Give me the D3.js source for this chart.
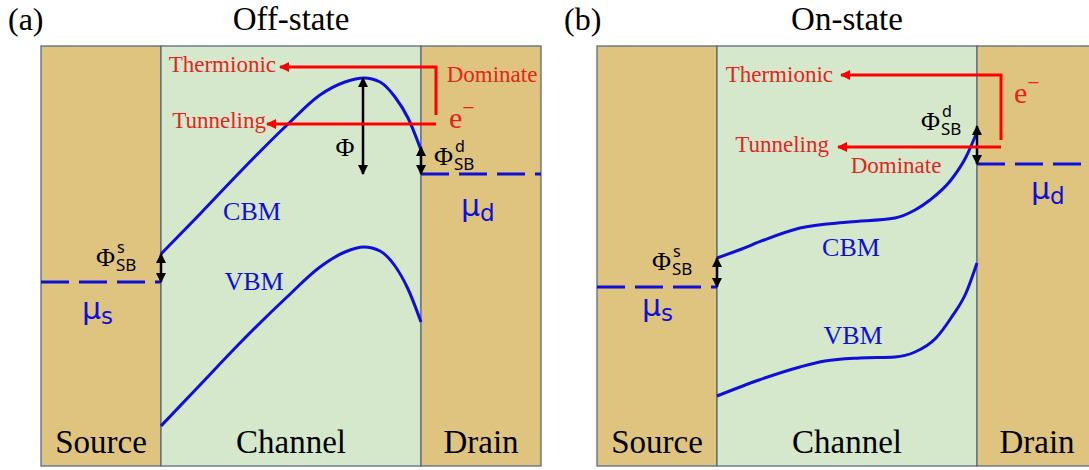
<!DOCTYPE html>
<html>
<head>
<meta charset="utf-8">
<script src="https://cdn.jsdelivr.net/npm/d3@7"></script>
<style>
  body { margin: 0; background: #fff; }
</style>
</head>
<body>
<div id="chart"></div>
<script>
// device regions along the transport direction (nm)
var regionNames = ["Source", "Channel", "Drain"];
var regionEdges = [-12, 0, 26, 38];

// (a) off-state band edges (eV, source Fermi level = 0)
var offCbmPos = [0, 3.9, 7.9, 12.6, 15.9, 18.4, 20.3, 21.9, 23.4, 24.7, 26];
var offCbm    = [0.28, 0.68, 1.10, 1.57, 1.87, 2.00, 2.04, 2.00, 1.85, 1.64, 1.32];
var offVbmPos = [0, 3.9, 7.9, 12.6, 15.9, 18.4, 20.3, 21.9, 23.4, 24.7, 26];
var offVbm    = [-1.44, -1.03, -0.61, -0.15, 0.15, 0.30, 0.35, 0.31, 0.16, -0.07, -0.40];
var offMu     = [0, 1.08];            // mu_s, mu_d
var offTransport = [2.15, 1.58];      // thermionic, tunneling energy

// (b) on-state band edges
var onCbmPos = [0, 2.2, 4.7, 8.3, 13.2, 17.8, 19.8, 21.3, 23.4, 24.9, 26];
var onCbm    = [0.29, 0.37, 0.47, 0.59, 0.65, 0.69, 0.77, 0.87, 1.07, 1.30, 1.55];
var onVbmPos = [0, 4.2, 8.3, 10.8, 14.3, 17.8, 19.8, 21.9, 23.4, 24.9, 26];
var onVbm    = [-1.09, -0.93, -0.80, -0.74, -0.71, -0.70, -0.65, -0.51, -0.31, -0.06, 0.24];
var onMu     = [0, 1.23];
var onTransport = [2.12, 1.40];

var tan = "#dfc47f", green = "#d5e8cc", edge = "#5b6b80";
var blue = "#0f0fd8", red = "#ff0000", redText = "#e3261c";
var serif = "'Liberation Serif', 'Times New Roman', serif";

var panels = [
  { tag: "(a)", title: "Off-state", left: 41, eDomain: [-1.84, 2.36],
    cbmPos: offCbmPos, cbm: offCbm, vbmPos: offVbmPos, vbm: offVbm, mu: offMu, tr: offTransport,
    redX: 27.5, redBottom: 1.67, thermTip: 11.9, tunnTip: 10.6,
    arrows: [[20.2, 2.04, 1.08], [0, 0.28, 0], [26, 1.35, 1.08]],
    phiBig: [18.4, 1.26],
    labels: { cbm: [9.1, 0.62], vbm: [9.3, -0.08], therm: [11.5, 2.10], tunn: [10.5, 1.54],
              dom: [33.1, 2.00], e: [28.8, 1.54], phiD: [27.3, 1.17], phiS: [-6.5, 0.16],
              muD: [30, 0.66], muS: [-7.9, -0.37] } },
  { tag: "(b)", title: "On-state", left: 597, eDomain: [-1.79, 2.41],
    cbmPos: onCbmPos, cbm: onCbm, vbmPos: onVbmPos, vbm: onVbm, mu: onMu, tr: onTransport,
    redX: 28.4, redBottom: 1.47, thermTip: 12.4, tunnTip: 12.1,
    arrows: [[0, 0.29, 0], [26, 1.61, 1.23]],
    phiBig: null,
    labels: { cbm: [13.4, 0.31], vbm: [13.6, -0.57], therm: [11.6, 2.05], tunn: [11.2, 1.35],
              dom: [17.9, 1.14], e: [29.7, 1.84], phiD: [20.4, 1.57], phiS: [-6.5, 0.17],
              muD: [31.4, 0.88], muS: [-7.5, -0.29] } }
];

var svg = d3.select("#chart").append("svg")
  .attr("width", 1089).attr("height", 470);

var defs = svg.append("defs");
defs.append("marker").attr("id", "headK")
  .attr("markerUnits", "userSpaceOnUse").attr("viewBox", "0 0 10 10")
  .attr("markerWidth", 10).attr("markerHeight", 11).attr("refX", 9).attr("refY", 5)
  .attr("orient", "auto-start-reverse")
  .append("path").attr("d", "M0,0L10,5L0,10Z").attr("fill", "#000");
defs.append("marker").attr("id", "headR")
  .attr("markerUnits", "userSpaceOnUse").attr("viewBox", "0 0 10 10")
  .attr("markerWidth", 13).attr("markerHeight", 10).attr("refX", 9).attr("refY", 5)
  .attr("orient", "auto")
  .append("path").attr("d", "M0,0L10,5L0,10Z").attr("fill", red);

// Φ with stacked super/subscript, kept in one text element
function phiLabel(g, x, y, sup) {
  var t = g.append("text").attr("x", x).attr("y", y)
    .attr("font-family", serif).attr("font-size", 26);
  t.append("tspan").text("Φ");
  var s = t.append("tspan").attr("font-family", "'Noto Sans', sans-serif")
    .attr("font-size", 16).attr("dx", 2).attr("dy", -13).text(sup);
  var w = s.node().getComputedTextLength();
  t.append("tspan").attr("font-family", "'Noto Sans', sans-serif")
    .attr("font-size", 17).attr("dx", -w - 1).attr("dy", 18).text("SB");
}

function muLabel(g, x, y, sub) {
  var t = g.append("text").attr("x", x).attr("y", y).attr("fill", blue)
    .attr("font-family", "'DejaVu Sans', sans-serif").attr("font-size", 30);
  t.append("tspan").text("μ");
  t.append("tspan").attr("font-size", 23).attr("dy", 5).text(sub);
}

panels.forEach(function(p) {
  var x = d3.scaleLinear().domain([regionEdges[0], regionEdges[3]]).range([p.left, p.left + 500]);
  var y = d3.scaleLinear().domain(p.eDomain).range([466, 46]);
  var g = svg.append("g");

  // regions
  g.selectAll("rect").data(regionNames).enter().append("rect")
    .attr("x", function(d, i) { return x(regionEdges[i]); })
    .attr("y", y(p.eDomain[1]))
    .attr("width", function(d, i) { return x(regionEdges[i + 1]) - x(regionEdges[i]); })
    .attr("height", y(p.eDomain[0]) - y(p.eDomain[1]))
    .attr("fill", function(d, i) { return i == 1 ? green : tan; })
    .attr("stroke", edge).attr("stroke-width", 1.3);

  // region names
  g.selectAll("text.rname").data(regionNames).enter().append("text")
    .attr("class", "rname")
    .attr("x", function(d, i) { return x((regionEdges[i] + regionEdges[i + 1]) / 2); })
    .attr("y", 453).attr("text-anchor", "middle")
    .attr("font-family", serif).attr("font-size", 33).text(function(d) { return d; });

  // titles
  g.append("text").attr("x", p.left - 33).attr("y", 30)
    .attr("font-family", serif).attr("font-size", 32).text(p.tag);
  g.append("text").attr("x", x(13)).attr("y", 30).attr("text-anchor", "middle")
    .attr("font-family", serif).attr("font-size", 33).text(p.title);

  // band edges
  var line = d3.line().x(function(d) { return x(d[0]); }).y(function(d) { return y(d[1]); })
    .curve(d3.curveMonotoneX);
  [d3.zip(p.cbmPos, p.cbm), d3.zip(p.vbmPos, p.vbm)].forEach(function(pts) {
    g.append("path").attr("d", line(pts)).attr("fill", "none")
      .attr("stroke", blue).attr("stroke-width", 3);
  });

  // contact Fermi levels
  g.append("line").attr("x1", x(regionEdges[0])).attr("x2", x(regionEdges[1]))
    .attr("y1", y(p.mu[0])).attr("y2", y(p.mu[0]))
    .attr("stroke", blue).attr("stroke-width", 3).attr("stroke-dasharray", "28,10");
  g.append("line").attr("x1", x(regionEdges[2])).attr("x2", x(regionEdges[3]))
    .attr("y1", y(p.mu[1])).attr("y2", y(p.mu[1]))
    .attr("stroke", blue).attr("stroke-width", 3).attr("stroke-dasharray", "28,10");

  // barrier arrows
  p.arrows.forEach(function(a) {
    g.append("line").attr("x1", x(a[0])).attr("x2", x(a[0]))
      .attr("y1", y(a[1])).attr("y2", y(a[2]))
      .attr("stroke", "#000").attr("stroke-width", 2.5)
      .attr("marker-start", "url(#headK)").attr("marker-end", "url(#headK)");
  });

  // electron paths
  g.append("path")
    .attr("d", "M" + x(p.redX) + "," + y(p.redBottom) + "L" + x(p.redX) + "," + y(p.tr[0]) +
               "L" + x(p.thermTip) + "," + y(p.tr[0]))
    .attr("fill", "none").attr("stroke", red).attr("stroke-width", 3)
    .attr("marker-end", "url(#headR)");
  g.append("line").attr("x1", x(p.redX)).attr("x2", x(p.tunnTip))
    .attr("y1", y(p.tr[1])).attr("y2", y(p.tr[1]))
    .attr("stroke", red).attr("stroke-width", 3).attr("marker-end", "url(#headR)");

  // labels
  var L = p.labels;
  function at(k) { return [x(L[k][0]), y(L[k][1])]; }
  g.append("text").attr("x", at("cbm")[0]).attr("y", at("cbm")[1]).attr("text-anchor", "middle")
    .attr("fill", blue).attr("font-family", serif).attr("font-size", 26).text("CBM");
  g.append("text").attr("x", at("vbm")[0]).attr("y", at("vbm")[1]).attr("text-anchor", "middle")
    .attr("fill", blue).attr("font-family", serif).attr("font-size", 26).text("VBM");
  g.append("text").attr("x", at("therm")[0]).attr("y", at("therm")[1]).attr("text-anchor", "end")
    .attr("fill", redText).attr("font-family", serif).attr("font-size", 23).text("Thermionic");
  g.append("text").attr("x", at("tunn")[0]).attr("y", at("tunn")[1]).attr("text-anchor", "end")
    .attr("fill", redText).attr("font-family", serif).attr("font-size", 23).text("Tunneling");
  g.append("text").attr("x", at("dom")[0]).attr("y", at("dom")[1]).attr("text-anchor", "middle")
    .attr("fill", redText).attr("font-family", serif).attr("font-size", 23).text("Dominate");
  var e = g.append("text").attr("x", at("e")[0]).attr("y", at("e")[1])
    .attr("fill", redText).attr("font-family", serif).attr("font-size", 30);
  e.append("tspan").text("e");
  e.append("tspan").attr("font-size", 22).attr("dy", -13).text("−");

  if (p.phiBig) {
    g.append("text").attr("x", x(p.phiBig[0])).attr("y", y(p.phiBig[1])).attr("text-anchor", "middle")
      .attr("font-family", serif).attr("font-size", 26).text("Φ");
  }
  phiLabel(g, at("phiD")[0], at("phiD")[1], "d");
  phiLabel(g, at("phiS")[0], at("phiS")[1], "s");
  muLabel(g, at("muD")[0], at("muD")[1], "d");
  muLabel(g, at("muS")[0], at("muS")[1], "s");
});
</script>
</body>
</html>
